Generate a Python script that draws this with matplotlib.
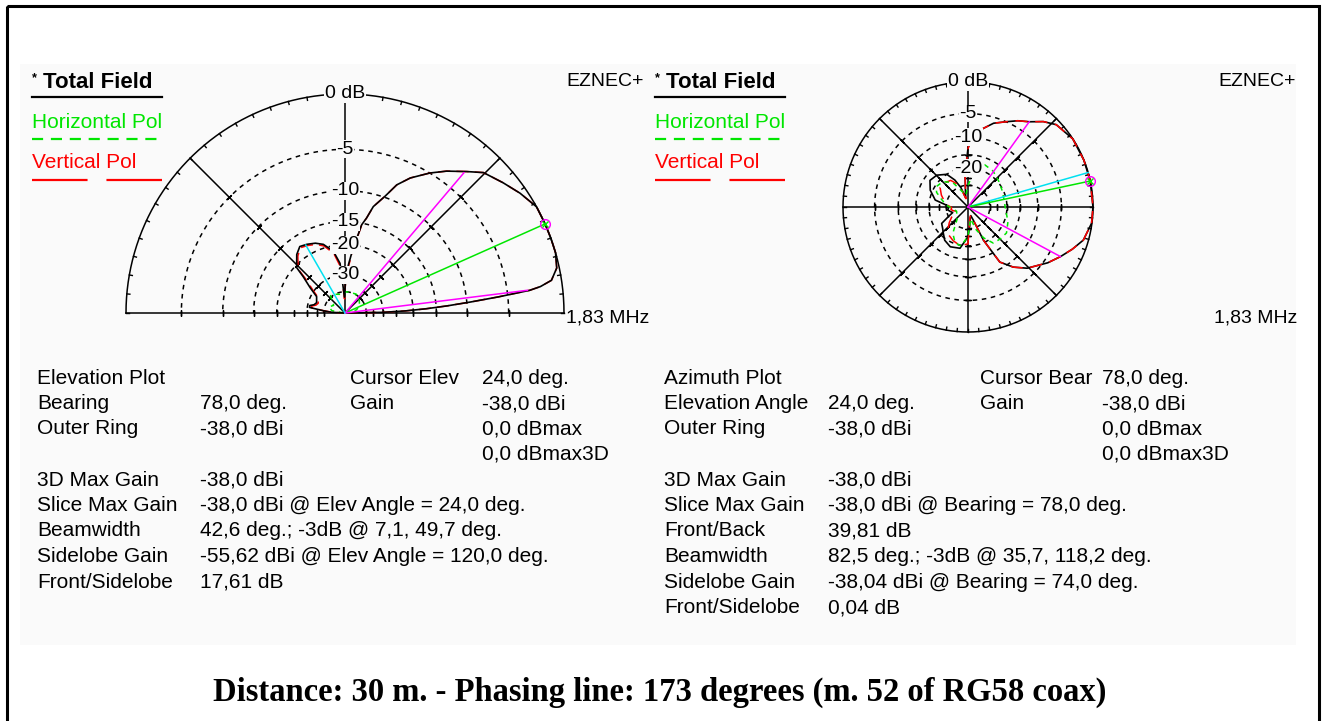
import numpy as np
import matplotlib.pyplot as plt
from matplotlib.patches import Rectangle

plt.rcParams['font.family'] = ['Liberation Sans', 'DejaVu Sans']

W, H = 1323, 721
GREEN = '#00e600'
RED = '#ff0000'
MAGENTA = '#ff00ff'
CYAN = '#00e0f0'

# ---- elevation plot (elevation angle deg, dB relative to max) ----
elev_ang = [0, 1, 2, 3, 4, 5, 6, 7, 7.7, 9, 12, 16, 20, 24, 29, 34.4, 39.5, 45.4,
            49.3, 54.4, 58.8, 64.2, 68, 71, 75.1, 77.2, 79.3, 80.8, 83, 86, 89, 92, 95.7,
            100.7, 107.5, 113, 119, 124.2, 129.5, 136.8, 139, 144, 150, 160, 165, 168,
            171, 174, 177, 180]
elev_tot = [-99, -30, -22, -17, -13, -9.5, -6, -2.8, -1.8, -0.8, -0.2, 0, 0, 0,
            0, -0.55, -1.15, -1.8, -2.75, -3.9, -5.0, -6.5, -7.9, -9.8, -11.8, -13.9,
            -15.3, -17.9, -21, -26, -33, -45, -25.4, -21.4, -19.1, -18.2, -17.6, -17.2,
            -18.2, -20.5, -23.6, -27.9, -32.6, -34, -33, -31, -31, -39.5, -48, -99]
elev_vert = [-99, -30, -22, -17, -13, -9.5, -6, -2.8, -1.8, -0.8, -0.2, 0, 0, 0,
             0, -0.55, -1.15, -1.8, -2.75, -3.9, -5.0, -6.5, -7.9, -9.8, -11.8, -13.9,
             -15.4, -18.1, -21.5, -27, -34, -47, -26.5, -22, -19.5, -18.5, -17.9, -17.5,
             -18.6, -21, -24.5, -29, -33.5, -35, -34, -32, -32, -40, -49, -99]
elev_hang = [0, 15, 28, 45, 59, 72, 86, 100, 115, 130, 146, 159, 170, 180]
elev_hor = [-99, -50, -44.5, -41, -39.5, -40, -40, -42, -40.5, -39, -47.6, -43.7, -48, -99]

# ---- azimuth plot (compass bearing deg, dB relative to max) ----
az_ang = [0, 3, 9, 17, 24.4, 30, 35.7, 41.4, 47, 57, 68, 78, 90, 97.5, 106, 112, 118.2,
          125, 136, 143, 150, 155, 158, 162, 170, 175, 180, 191, 204, 215, 223, 230,
          238, 244, 250, 256, 262, 268, 275, 282, 294, 305, 315.6, 327, 334, 340, 346,
          350, 355, 360]
az_tot = [-13, -10.3, -8.1, -6.1, -4.95, -3.9, -3.0, -1.6, -0.6, 0, 0, 0, 0, -0.05, -0.7,
          -1.8, -3.0, -4.3, -6.6, -8.7, -11.6, -21, -37, -45, -40, -32, -24.6, -18.7,
          -18.1, -19.3, -21.3, -22.8, -23.9, -30, -35, -33, -31, -32, -30, -22.6, -19,
          -17, -17.7, -20, -24.5, -31, -45, -37, -22.5, -13]
az_vert = [-13, -10.3, -8.1, -6.1, -4.95, -3.9, -3.0, -1.6, -0.6, 0, 0, 0, 0, -0.05,
           -0.7, -1.8, -3.0, -4.3, -6.6, -8.7, -11.6, -21, -38, -46, -42, -34, -21,
           -19.7, -21, -22.4, -25, -28, -32, -36, -40, -36, -34, -35, -31, -28.5, -25,
           -22.3, -22.5, -23.5, -27, -34, -46, -38, -23, -13]
az_hang = [0, 10, 22, 35, 50, 65, 80, 95, 110, 124, 135, 145, 153, 160, 168, 180, 190,
           200, 210, 222, 250, 275, 286, 295, 303, 315, 328, 340, 350, 360]
az_hor = [-30, -21, -17.4, -18, -19.5, -20.5, -21, -20.5, -18.5, -17, -17.4, -17.9, -22,
          -28, -40, -25, -19.7, -20.5, -24.3, -35, -40, -30, -26, -22, -20.6, -21.5, -25,
          -35, -40, -30]

elev_rings = [-5, -10, -15, -20, -30, -40]
elev_labels = ['-5', '-10', '-15', '-20', '-30']
az_rings = [-5, -10, -15, -20, -30]
az_labels = {-5: '-5', -10: '-10', -20: '-20'}
elev_ticks = [-5, -10, -15, -20, -25, -30, -35, -40]
az_ticks = [-5, -10, -15, -20, -25, -30]

left_rows = [
    ("Elevation Plot", "", "Cursor Elev", "24,0 deg."),
    ("Bearing", "78,0 deg.", "Gain", "-38,0 dBi"),
    ("Outer Ring", "-38,0 dBi", "", "0,0 dBmax"),
    ("", "", "", "0,0 dBmax3D"),
    ("3D Max Gain", "-38,0 dBi", "", ""),
    ("Slice Max Gain", "-38,0 dBi @ Elev Angle = 24,0 deg.", "", ""),
    ("Beamwidth", "42,6 deg.; -3dB @ 7,1, 49,7 deg.", "", ""),
    ("Sidelobe Gain", "-55,62 dBi @ Elev Angle = 120,0 deg.", "", ""),
    ("Front/Sidelobe", "17,61 dB", "", ""),
]
right_rows = [
    ("Azimuth Plot", "", "Cursor Bear", "78,0 deg."),
    ("Elevation Angle", "24,0 deg.", "Gain", "-38,0 dBi"),
    ("Outer Ring", "-38,0 dBi", "", "0,0 dBmax"),
    ("", "", "", "0,0 dBmax3D"),
    ("3D Max Gain", "-38,0 dBi", "", ""),
    ("Slice Max Gain", "-38,0 dBi @ Bearing = 78,0 deg.", "", ""),
    ("Front/Back", "39,81 dB", "", ""),
    ("Beamwidth", "82,5 deg.; -3dB @ 35,7, 118,2 deg.", "", ""),
    ("Sidelobe Gain", "-38,04 dBi @ Bearing = 74,0 deg.", "", ""),
    ("Front/Sidelobe", "0,04 dB", "", ""),
]
title = "Distance: 30 m. - Phasing line: 173 degrees (m. 52 of RG58 coax)"


def arrl(db):
    # ARRL log scale used by EZNEC
    return 0.89 ** (-np.asarray(db, dtype=float) / 2)


fig = plt.figure(figsize=(W / 100, H / 100), dpi=100)
bg = fig.add_axes([0, 0, 1, 1])
bg.set_xlim(0, W)
bg.set_ylim(H, 0)
bg.axis('off')
bg.add_patch(Rectangle((20, 64), 1276, 581, facecolor='#fafafa', edgecolor='none'))
bg.add_patch(Rectangle((6.5, 5.5), 1312, 730, facecolor='none', edgecolor='black', lw=2.2))


def polar_ax(cx, cy, r):
    ax = fig.add_axes([(cx - r) / W, (H - cy - r) / H, 2 * r / W, 2 * r / H],
                      projection='polar')
    ax.set_ylim(0, 1)
    ax.set_axis_off()
    return ax


def ticks_on_ray(ax, th, rot, dbs):
    ax.plot([th] * len(dbs), arrl(dbs), ls='none', marker=(2, 2, rot),
            ms=4.5, mew=1, color='black', clip_on=False)


def outer_ticks(ax, t0, t1, r0):
    for t in np.radians(np.arange(t0, t1 + 1, 5)):
        ax.plot([t, t], [r0, 1.0], color='black', lw=1, clip_on=False)


kw = dict(color='black', lw=1.1, clip_on=False)
dash = dict(color='black', lw=1.1, ls=(0, (3, 3)), clip_on=False)
lbl = dict(ha='center', va='center', fontsize=14,
           bbox=dict(facecolor='#fafafa', edgecolor='none', pad=0.3))

# ================= elevation =================
ea = polar_ax(345, 313, 219)
th = np.radians(np.linspace(0, 180, 361))
ea.plot(th, np.ones_like(th), **kw)
for db in elev_rings:
    ea.plot(th, np.full_like(th, arrl(db)), **dash)
for deg in [0, 45, 90, 135, 180]:
    ea.plot([np.radians(deg)] * 2, [0, 1], **kw)
outer_ticks(ea, 0, 180, 0.986)
ticks_on_ray(ea, 0, 0, elev_ticks)
ticks_on_ray(ea, np.pi, 0, elev_ticks)
ticks_on_ray(ea, np.radians(45), 45, elev_ticks)
ticks_on_ray(ea, np.radians(135), -45, elev_ticks)

ea.plot(np.radians(elev_ang), arrl(elev_vert), color=RED, lw=1.1,
        ls=(0, (8, 4)), clip_on=False)
ea.plot(np.radians(elev_hang), arrl(elev_hor), color=GREEN, lw=1.1,
        ls=(0, (3, 3)), clip_on=False)
ea.plot(np.radians(elev_ang), arrl(elev_tot), color='black', lw=1.2, clip_on=False)
ea.plot([0, np.radians(24)], [0, 1], color=GREEN, lw=1.1, clip_on=False)
ea.plot([0, np.radians(7.1)], [0, arrl(-3)], color=MAGENTA, lw=1.1, clip_on=False)
ea.plot([0, np.radians(49.7)], [0, arrl(-3)], color=MAGENTA, lw=1.1, clip_on=False)
ea.plot([0, np.radians(120)], [0, arrl(-17.61)], color=CYAN, lw=1.1, clip_on=False)
ea.plot([np.radians(24)], [1], marker='o', ms=7, mfc='none', mec=MAGENTA, mew=1,
        clip_on=False)
ea.plot([np.radians(24)], [1], marker='x', ms=4, color=GREEN, mew=1, clip_on=False)

ea.text(np.pi / 2, 1, '0 dB', **lbl)
for db, s in zip(elev_rings, elev_labels):
    ea.text(np.pi / 2, arrl(db), s, **lbl)

# ================= azimuth =================
aa = polar_ax(968, 207, 125)
aa.set_theta_zero_location('N')
aa.set_theta_direction(-1)
th = np.radians(np.linspace(0, 360, 721))
aa.plot(th, np.ones_like(th), **kw)
for db in az_rings:
    aa.plot(th, np.full_like(th, arrl(db)), **dash)
for deg in [0, 45, 90, 135]:
    aa.plot([np.radians(deg)] * 2, [0, 1], **kw)
    aa.plot([np.radians(deg + 180)] * 2, [0, 1], **kw)
outer_ticks(aa, 0, 355, 0.976)
for deg, rot in [(0, 90), (180, 90), (90, 0), (270, 0), (45, -45), (225, -45),
                 (135, 45), (315, 45)]:
    ticks_on_ray(aa, np.radians(deg), rot, az_ticks)

aa.plot(np.radians(az_ang), arrl(az_tot), color='black', lw=1.2, clip_on=False)
aa.plot(np.radians(az_ang), arrl(az_vert), color=RED, lw=1.1,
        ls=(0, (8, 5)), clip_on=False)
aa.plot(np.radians(az_hang), arrl(az_hor), color=GREEN, lw=1.1,
        ls=(0, (3, 3)), clip_on=False)
aa.plot([0, np.radians(74)], [0, 1], color=CYAN, lw=1.1, clip_on=False)
aa.plot([0, np.radians(78)], [0, 1], color=GREEN, lw=1.1, clip_on=False)
aa.plot([0, np.radians(35.7)], [0, arrl(-3)], color=MAGENTA, lw=1.1, clip_on=False)
aa.plot([0, np.radians(118.2)], [0, arrl(-3)], color=MAGENTA, lw=1.1, clip_on=False)
aa.plot([np.radians(78)], [1], marker='o', ms=7, mfc='none', mec=MAGENTA, mew=1,
        clip_on=False)
aa.plot([np.radians(78)], [1], marker='x', ms=4, color=GREEN, mew=1, clip_on=False)
aa.text(0, 1, '0 dB', **lbl)
for db, s in az_labels.items():
    aa.text(0, arrl(db), s, **lbl)

# ================= legends / captions =================
fs = 15
for x0, ez in [(32, 566), (655, 1218)]:
    bg.text(x0, 78, '*', fontsize=9, fontweight='bold', va='center')
    bg.text(x0 + 11, 83, 'Total Field', fontsize=16, fontweight='bold', va='center')
    bg.plot([x0, x0 + 130], [97, 97], color='black', lw=1.6)
    bg.text(x0, 123, 'Horizontal Pol', fontsize=fs, color=GREEN, va='center')
    bg.plot([x0, x0 + 128], [139, 139], color=GREEN, lw=1.6, ls=(0, (5, 3.5)))
    bg.text(x0, 163, 'Vertical Pol', fontsize=fs, color=RED, va='center')
    bg.plot([x0, x0 + 130], [180, 180], color=RED, lw=1.6, ls=(0, (25, 8.5)))
    bg.text(ez, 81, 'EZNEC+', fontsize=14, va='center')
bg.text(566, 318, '1,83 MHz', fontsize=14, va='center')
bg.text(1297, 318, '1,83 MHz', fontsize=14, va='center', ha='right')

row_y0, row_dy = 378, 25.5
for rows, cols in [(left_rows, (37, 200, 350, 482)), (right_rows, (664, 828, 980, 1102))]:
    for i, row in enumerate(rows):
        y = row_y0 + i * row_dy
        for x, s in zip(cols, row):
            if s:
                bg.text(x, y, s, fontsize=fs, va='center')

bg.text(660, 692, title, fontsize=23.5, fontweight='bold', ha='center', va='center',
        family=['Liberation Serif', 'DejaVu Serif'])

fig.savefig('out.png', dpi=100)
